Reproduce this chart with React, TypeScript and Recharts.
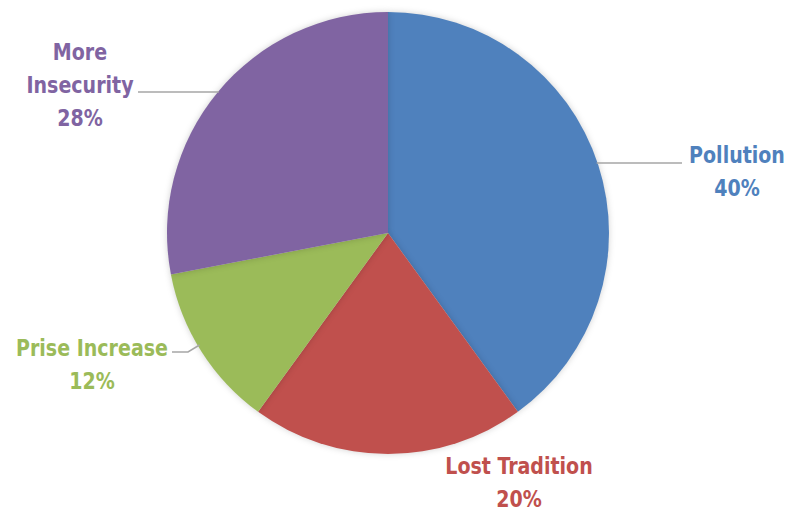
import { PieChart, Pie, Cell } from 'recharts';

const categories = ['Pollution', 'Lost Tradition', 'Prise Increase', 'More Insecurity'];
const shares = [40, 20, 12, 28];
const colors = ['#4F81BD', '#C0504D', '#9BBB59', '#8064A2'];

// label text lines, placed as offsets from the pie centre (Excel-ish manual layout)
const labelLines = [['Pollution'], ['Lost Tradition'], ['Prise Increase'], ['More', 'Insecurity']];
const labelAt = [
  { dx: 349, dy: -78, lineY: -70, lineEnd: 294 },
  { dx: 131, dy: 233, lineY: null, lineEnd: 0 },
  { dx: -296, dy: 115, lineY: 119, lineEnd: -216 },
  { dx: -308, dy: -181, lineY: -141, lineEnd: -250 },
];

const data = categories.map((name, i) => ({ name, value: shares[i] }));

const CX = 388;
const CY = 233;
const R = 221;
const LINE_H = 33;

const renderLabel = (props: any) => {
  const { index, cx, cy, outerRadius, percent } = props;
  const pos = labelAt[index];
  const lines = [...labelLines[index], `${Math.round(percent * 100)}%`];
  const tx = cx + pos.dx;
  const ty = cy + pos.dy;
  let leader = null;
  if (pos.lineY !== null) {
    const ly = cy + pos.lineY;
    const side = pos.dx > 0 ? 1 : -1;
    if (index === 2) {
      // bent leader going up to the slice edge
      const ey = ly - 7;
      const ex = cx - Math.sqrt(outerRadius * outerRadius - (ey - cy) * (ey - cy)) + 2;
      leader = (
        <polyline
          points={`${cx + pos.lineEnd},${ly} ${cx + pos.lineEnd + 16},${ly} ${ex},${ey}`}
          fill="none"
          stroke="#A6A6A6"
          strokeWidth={1.5}
        />
      );
    } else {
      const ex = cx + side * (Math.sqrt(outerRadius * outerRadius - (ly - cy) * (ly - cy)) - 1);
      leader = (
        <line x1={ex} y1={ly} x2={cx + pos.lineEnd} y2={ly} stroke="#A6A6A6" strokeWidth={1.5} />
      );
    }
  }
  return (
    <g key={`lbl-${index}`}>
      {leader}
      {lines.map((t, k) => (
        <text
          key={k}
          x={0}
          y={0}
          transform={`translate(${tx},${ty + k * LINE_H}) scale(0.92,1)`}
          textAnchor="middle"
          dominantBaseline="central"
          fill={colors[index]}
          fontSize={23}
          fontWeight="bold"
          fontFamily="'Liberation Sans Narrow', 'DejaVu Sans Condensed', 'Roboto', sans-serif"
        >
          {t}
        </text>
      ))}
    </g>
  );
};

export default function App() {
  return (
    <div style={{ position: 'absolute', left: 0, top: 0, width: 794, height: 512, background: '#fff' }}>
      <style>{`.recharts-pie-sector { filter: drop-shadow(0 0 3px rgba(0,0,0,0.18)); }`}</style>
      <PieChart width={794} height={512} margin={{ top: 0, right: 0, bottom: 0, left: 0 }}>
        <Pie
          data={data}
          dataKey="value"
          nameKey="name"
          cx={CX}
          cy={CY}
          outerRadius={R}
          startAngle={90}
          endAngle={-270}
          stroke="none"
          label={renderLabel}
          labelLine={false}
          isAnimationActive={false}
        >
          {data.map((d, i) => (
            <Cell key={d.name} fill={colors[i]} />
          ))}
        </Pie>
      </PieChart>
    </div>
  );
}
